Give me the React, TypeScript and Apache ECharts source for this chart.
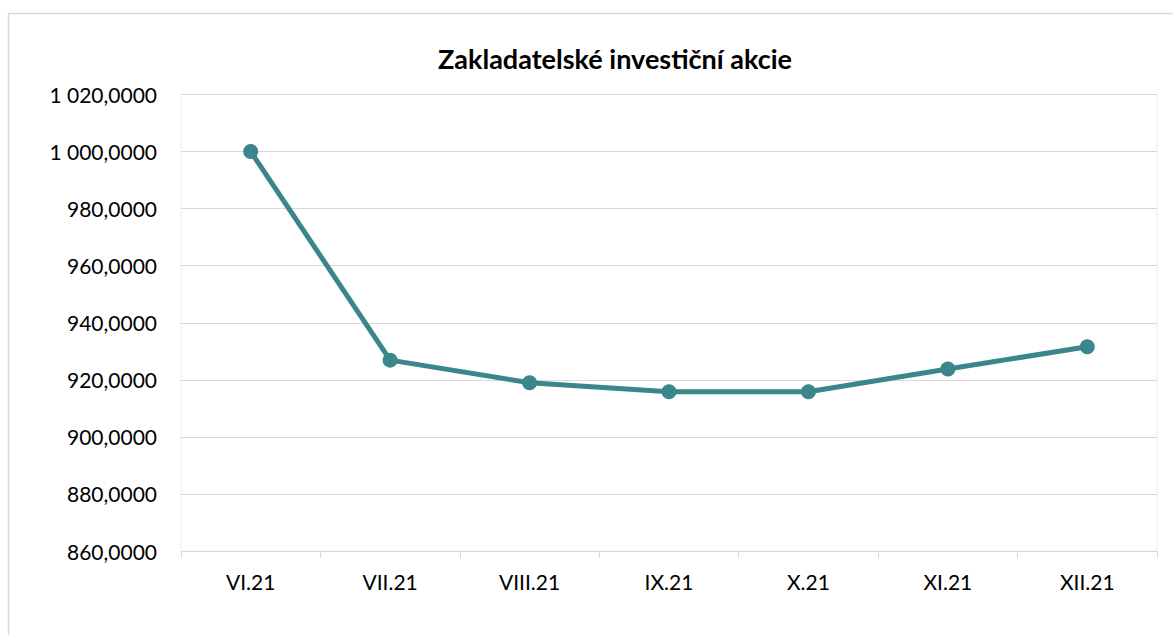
import React, { useEffect, useRef } from "react";
import * as echarts from "echarts";

const categories = ["VI.21", "VII.21", "VIII.21", "IX.21", "X.21", "XI.21", "XII.21"];
const values = [1000.0, 926.9, 919.0, 915.8, 915.8, 923.8, 931.6];
const yMin = 860;
const yMax = 1020;
const yStep = 20;
const title = "Zakladatelské investiční akcie";

function fmt(v: number): string {
  const fixed = v.toFixed(4);
  const [intPart, dec] = fixed.split(".");
  const withSpaces = intPart.replace(/\B(?=(\d{3})+(?!\d))/g, " ");
  return withSpaces + "," + dec;
}

export default function App() {
  const ref = useRef<HTMLDivElement>(null);
  useEffect(() => {
    if (!ref.current) return;
    const chart = echarts.init(ref.current, undefined, { renderer: "svg" });
    const font = "Lato, 'Open Sans', sans-serif";
    chart.setOption({
      animation: false,
      backgroundColor: "#ffffff",
      textStyle: { fontFamily: font },
      title: {
        text: title,
        left: 433,
        top: 40,
        textStyle: { fontFamily: font, fontSize: 27, fontWeight: "bold", color: "#000000" },
      },
      graphic: [
        {
          type: "rect",
          shape: { x: 8.5, y: 13.5, width: 1180, height: 640 },
          style: { fill: "none", stroke: "#d9d9d9", lineWidth: 1.5 },
          silent: true,
        },
      ],
      grid: {
        left: 181,
        right: 16,
        top: 94.5,
        bottom: 84,
        show: true,
        borderColor: "#eeeeee",
        borderWidth: 1,
      },
      xAxis: {
        type: "category",
        data: categories,
        boundaryGap: true,
        axisLine: { show: true, lineStyle: { color: "#d9d9d9", width: 1 } },
        axisTick: { show: true, length: 7, lineStyle: { color: "#d9d9d9" } },
        axisLabel: { color: "#000000", fontSize: 21, margin: 20, fontFamily: font },
      },
      yAxis: {
        type: "value",
        min: yMin,
        max: yMax,
        interval: yStep,
        axisLine: { show: false },
        axisTick: { show: false },
        splitLine: { show: true, lineStyle: { color: "#d9d9d9", width: 1 } },
        axisLabel: {
          color: "#000000",
          fontSize: 21,
          margin: 24,
          fontFamily: font,
          formatter: (v: number) => fmt(v),
        },
      },
      series: [
        {
          type: "line",
          data: values,
          symbol: "circle",
          symbolSize: 15,
          lineStyle: { color: "#3a868a", width: 5 },
          itemStyle: { color: "#3a868a" },
        },
      ],
    });
    return () => chart.dispose();
  }, []);
  return (
    <div
      ref={ref}
      style={{ position: "fixed", left: 0, top: 0, width: 1173, height: 635 }}
    />
  );
}
